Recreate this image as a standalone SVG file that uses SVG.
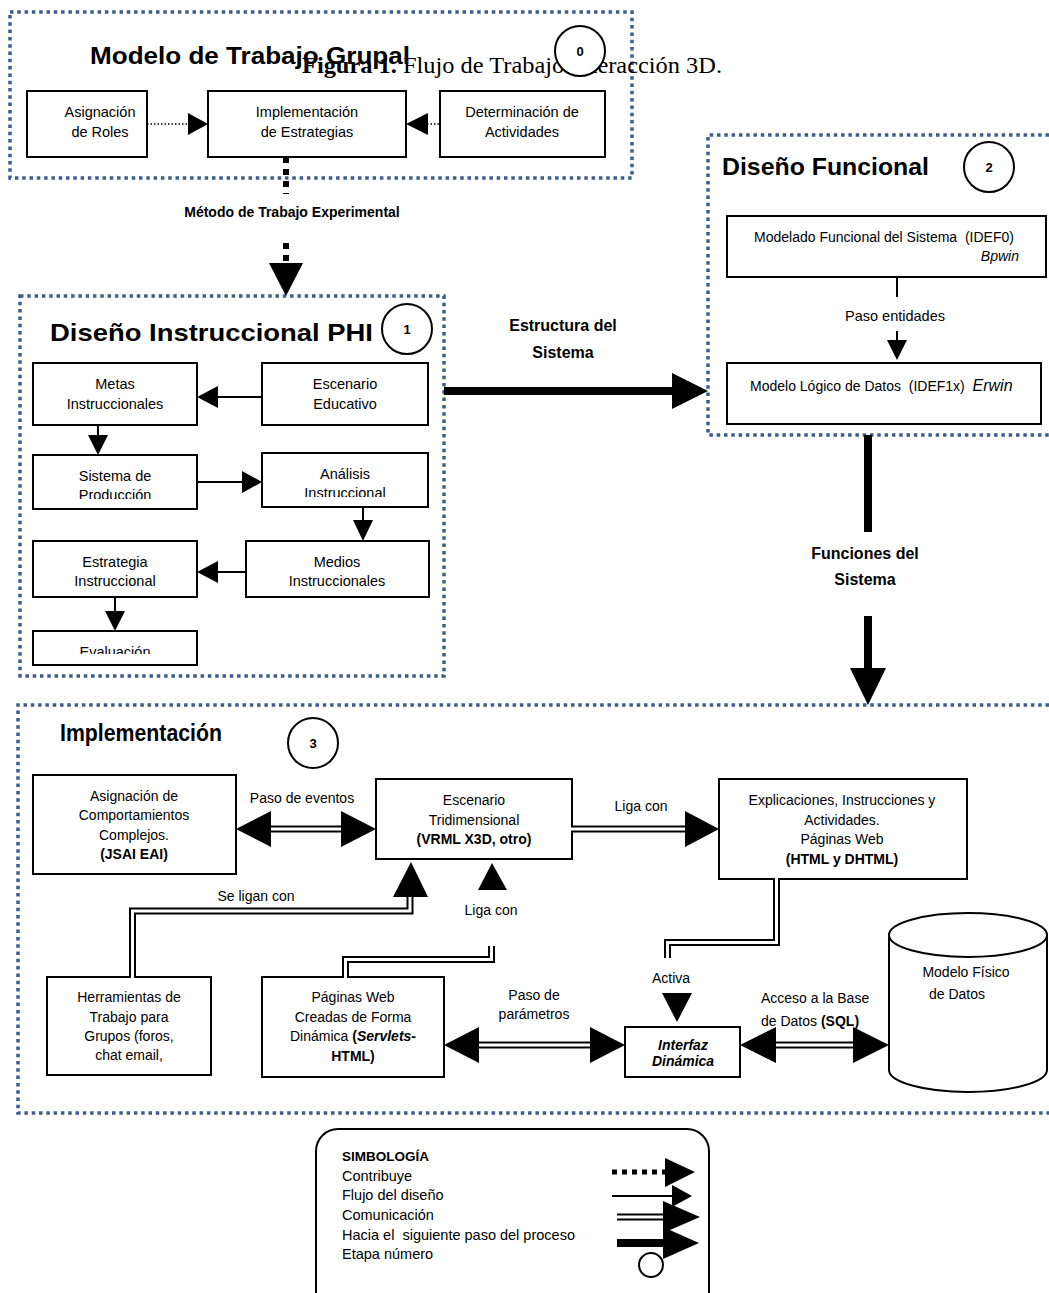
<svg xmlns="http://www.w3.org/2000/svg" width="1049" height="1293" viewBox="0 0 1049 1293">
<style>
text{font-family:"Liberation Sans",Arial,sans-serif;fill:#000;}
.t{font-size:14px;text-anchor:middle;}
.t2{font-size:14.5px;text-anchor:middle;}
.tl{font-size:14px;}
.b{font-weight:bold;}
.title{font-size:24px;font-weight:bold;}
.lbl{font-size:16px;font-weight:bold;text-anchor:middle;}
.fig{font-family:"Liberation Serif","Times New Roman",serif;font-size:24px;}
.grp{fill:none;stroke:#3b5e8c;stroke-width:3.5;stroke-dasharray:3.5 3.8;}
.box{fill:#fff;stroke:#000;stroke-width:2;}
.circ{fill:#fff;stroke:#000;stroke-width:2;}
.num{font-size:13px;font-weight:bold;text-anchor:middle;}
.ah{fill:#000;stroke:none;}
.thin{fill:none;stroke:#000;stroke-width:2;}
.dots{fill:none;stroke:#000;stroke-width:1.3;stroke-dasharray:1.5 2;}
.thick{fill:none;stroke:#000;stroke-width:8;}
.blk{fill:none;stroke:#000;stroke-width:6;stroke-dasharray:6 6;}
.co{fill:none;stroke:#000;stroke-width:7;}
.ci{fill:none;stroke:#fff;stroke-width:3;}
.leg{font-size:14.5px;}
</style>
<defs>
<clipPath id="cProd"><rect x="30" y="450" width="170" height="49"/></clipPath>
<clipPath id="cAnal"><rect x="260" y="450" width="170" height="47"/></clipPath>
<clipPath id="cEval"><rect x="30" y="630" width="170" height="24"/></clipPath>
<clipPath id="cEstr"><rect x="480" y="310" width="170" height="48"/></clipPath>
</defs>
<rect width="1049" height="1293" fill="#fff"/>

<!-- Group 0 -->
<g id="stage0">
<rect class="grp" x="10" y="12" width="622" height="166"/>
<text class="title" x="90" y="64" textLength="320" lengthAdjust="spacingAndGlyphs">Modelo de Trabajo Grupal</text>
<text class="fig" x="302" y="73" textLength="420" lengthAdjust="spacingAndGlyphs"><tspan font-weight="bold">Figura 1.</tspan> Flujo de Trabajo Interacción 3D.</text>
<circle class="circ" cx="580" cy="51" r="25"/>
<text class="num" x="580" y="56">0</text>
</g>
<g id="asignacion-roles">
<rect class="box" x="27" y="91" width="120" height="66"/>
<text class="t2" x="100" y="117">Asignación</text>
<text class="t2" x="100" y="137">de Roles</text>
</g>
<g id="implementacion-estrategias">
<rect class="box" x="208" y="91" width="198" height="66"/>
<text class="t2" x="307" y="117">Implementación</text>
<text class="t2" x="307" y="137">de Estrategias</text>
</g>
<g id="determinacion-actividades">
<rect class="box" x="440" y="91" width="165" height="66"/>
<text class="t2" x="522" y="117">Determinación de</text>
<text class="t2" x="522" y="137">Actividades</text>
</g>

<!-- Group 1 -->
<g id="stage1">
<rect class="grp" x="20" y="296" width="424" height="380"/>
<text class="title" x="50" y="341" textLength="323" lengthAdjust="spacingAndGlyphs">Diseño Instruccional PHI</text>
<circle class="circ" cx="407" cy="329" r="25"/>
<text class="num" x="407" y="334">1</text>
</g>
<g id="metas">
<rect class="box" x="33" y="363" width="164" height="62"/>
<text class="t2" x="115" y="389">Metas</text>
<text class="t2" x="115" y="409">Instruccionales</text>
</g>
<g id="escenario-educativo">
<rect class="box" x="262" y="363" width="166" height="62"/>
<text class="t2" x="345" y="389">Escenario</text>
<text class="t2" x="345" y="409">Educativo</text>
</g>
<g id="sistema-produccion">
<rect class="box" x="33" y="455" width="164" height="54"/>
<g clip-path="url(#cProd)">
<text class="t2" x="115" y="481">Sistema de</text>
<text class="t2" x="115" y="500">Producción</text>
</g>
</g>
<g id="analisis">
<rect class="box" x="262" y="453" width="166" height="54"/>
<g clip-path="url(#cAnal)">
<text class="t2" x="345" y="479">Análisis</text>
<text class="t2" x="345" y="498">Instruccional</text>
</g>
</g>
<g id="medios">
<rect class="box" x="246" y="541" width="183" height="56"/>
<text class="t2" x="337" y="567">Medios</text>
<text class="t2" x="337" y="586">Instruccionales</text>
</g>
<g id="estrategia">
<rect class="box" x="33" y="541" width="164" height="56"/>
<text class="t2" x="115" y="567">Estrategia</text>
<text class="t2" x="115" y="586">Instruccional</text>
</g>
<g id="evaluacion">
<rect class="box" x="33" y="631" width="164" height="34"/>
<g clip-path="url(#cEval)">
<text class="t2" x="115" y="657">Evaluación</text>
</g>
</g>

<!-- Group 2 -->
<g id="stage2">
<path class="grp" d="M1049,135 H708 V435 H1049"/>
<text class="title" x="722" y="175" textLength="207" lengthAdjust="spacingAndGlyphs">Diseño Funcional</text>
<circle class="circ" cx="989" cy="167" r="25"/>
<text class="num" x="989" y="172">2</text>
</g>
<g id="modelado-funcional">
<rect class="box" x="727" y="216" width="319" height="61"/>
<text class="tl" x="754" y="242">Modelado Funcional del Sistema&#160; (IDEF0)</text>
<text class="tl" x="1019" y="261" text-anchor="end" font-style="italic">Bpwin</text>
</g>
<g id="modelo-logico">
<rect class="box" x="727" y="363" width="314" height="61"/>
<text class="tl" x="750" y="391">Modelo Lógico de Datos&#160; (IDEF1x)&#160; <tspan font-style="italic" font-size="16">Erwin</tspan></text>
</g>

<!-- Group 3 -->
<g id="stage3">
<path class="grp" d="M1049,705 H18 V1113 H1049"/>
<text class="title" x="60" y="741" font-size="21" textLength="162" lengthAdjust="spacingAndGlyphs">Implementación</text>
<circle class="circ" cx="313" cy="743" r="25"/>
<text class="num" x="313" y="748">3</text>
</g>
<g id="asignacion-comportamientos">
<rect class="box" x="33" y="775" width="203" height="99"/>
<text class="t" x="134" y="801">Asignación de</text>
<text class="t" x="134" y="820">Comportamientos</text>
<text class="t" x="134" y="840">Complejos.</text>
<text class="t b" x="134" y="859">(JSAI EAI)</text>
</g>
<g id="escenario-3d">
<rect class="box" x="376" y="779" width="196" height="80"/>
<text class="t" x="474" y="805">Escenario</text>
<text class="t" x="474" y="825">Tridimensional</text>
<text class="t b" x="474" y="844">(VRML X3D, otro)</text>
</g>
<g id="explicaciones">
<rect class="box" x="719" y="779" width="248" height="100"/>
<text class="t" x="842" y="805">Explicaciones, Instrucciones y</text>
<text class="t" x="842" y="825">Actividades.</text>
<text class="t" x="842" y="844">Páginas Web</text>
<text class="t b" x="842" y="864">(HTML y DHTML)</text>
</g>
<g id="herramientas">
<rect class="box" x="47" y="977" width="164" height="98"/>
<text class="t" x="129" y="1002">Herramientas de</text>
<text class="t" x="129" y="1022">Trabajo para</text>
<text class="t" x="129" y="1041">Grupos (foros,</text>
<text class="t" x="129" y="1060">chat email,</text>
</g>
<g id="paginas-dinamicas">
<rect class="box" x="262" y="977" width="182" height="100"/>
<text class="t" x="353" y="1002">Páginas Web</text>
<text class="t" x="353" y="1022">Creadas de Forma</text>
<text class="t" x="353" y="1041">Dinámica <tspan font-weight="bold">(</tspan><tspan font-weight="bold" font-style="italic">Servlets-</tspan></text>
<text class="t b" x="353" y="1061">HTML)</text>
</g>
<g id="interfaz">
<rect class="box" x="625" y="1027" width="115" height="50"/>
<text class="t b" x="683" y="1050" font-size="11" font-style="italic">Interfaz</text>
<text class="t b" x="683" y="1066" font-size="11" font-style="italic">Dinámica</text>
</g>
<g id="modelo-fisico">
<path class="box" d="M889,935 V1070 A79,22 0 0 0 1047,1070 V935"/>
<ellipse class="box" cx="968" cy="935" rx="79" ry="22"/>
<text class="t" x="966" y="977">Modelo Físico</text>
<text class="t" x="957" y="999">de Datos</text>
</g>

<!-- Connectors -->
<g id="connectors">
<line class="dots" x1="147" y1="124" x2="189" y2="124"/>
<polygon class="ah" points="188,113 208,124 188,135"/>
<line class="dots" x1="427" y1="124" x2="440" y2="124"/>
<polygon class="ah" points="428,113 406,124 428,135"/>
<line class="blk" x1="286" y1="157" x2="286" y2="194"/>
<text class="b" x="292" y="217" font-size="14" text-anchor="middle">Método de Trabajo Experimental</text>
<line class="blk" x1="286" y1="243" x2="286" y2="265"/>
<polygon class="ah" points="269,263 303,263 286,296"/>
<line class="thin" x1="262" y1="397" x2="216" y2="397"/>
<polygon class="ah" points="218,386 197,397 218,408"/>
<line class="thin" x1="98" y1="425" x2="98" y2="437"/>
<polygon class="ah" points="88,435 108,435 98,455"/>
<line class="thin" x1="197" y1="482" x2="244" y2="482"/>
<polygon class="ah" points="242,471 262,482 242,493"/>
<line class="thin" x1="363" y1="507" x2="363" y2="522"/>
<polygon class="ah" points="353,520 373,520 363,541"/>
<line class="thin" x1="246" y1="572" x2="216" y2="572"/>
<polygon class="ah" points="218,561 197,572 218,583"/>
<line class="thin" x1="115" y1="597" x2="115" y2="613"/>
<polygon class="ah" points="105,611 125,611 115,631"/>
<line class="thick" x1="444" y1="391" x2="674" y2="391"/>
<polygon class="ah" points="672,373 708,391 672,409"/>
<g clip-path="url(#cEstr)">
<text class="lbl" x="563" y="331">Estructura del</text>
<text class="lbl" x="563" y="358">Sistema</text>
</g>
<line class="thin" x1="897" y1="277" x2="897" y2="297"/>
<text class="t2" x="895" y="321">Paso entidades</text>
<line class="thin" x1="897" y1="331" x2="897" y2="342"/>
<polygon class="ah" points="887,340 907,340 897,360"/>
<line class="thick" x1="868" y1="435" x2="868" y2="532" stroke-width="9"/>
<text class="lbl" x="865" y="559">Funciones del</text>
<text class="lbl" x="865" y="585">Sistema</text>
<line class="thick" x1="868" y1="616" x2="868" y2="670" stroke-width="9"/>
<polygon class="ah" points="850,668 886,668 868,705"/>
<line class="co" x1="268" y1="829" x2="344" y2="829"/>
<line class="ci" x1="266" y1="829" x2="346" y2="829"/>
<polygon class="ah" points="271,811 236,829 271,847"/>
<polygon class="ah" points="341,811 376,829 341,847"/>
<text class="t" x="302" y="803">Paso de eventos</text>
<line class="co" x1="572" y1="829" x2="688" y2="829"/>
<line class="ci" x1="570" y1="829" x2="690" y2="829"/>
<polygon class="ah" points="685,811 719,829 685,847"/>
<text class="t" x="641" y="811">Liga con</text>
<path class="co" d="M132.5,977 V911 H410 V895"/>
<path class="ci" d="M132.5,979 V911 H410 V893"/>
<polygon class="ah" points="393,897 428,897 411,862"/>
<text class="t" x="256" y="901">Se ligan con</text>
<path class="co" d="M345.5,977 V959.5 H491.5 V946"/>
<path class="ci" d="M345.5,979 V959.5 H491.5 V944"/>
<polygon class="ah" points="478,890 507,890 492,863"/>
<text class="t" x="491" y="915">Liga con</text>
<path class="co" d="M776.5,879 V942.5 H667.5 V958"/>
<path class="ci" d="M776.5,877 V942.5 H667.5 V960"/>
<text class="t" x="671" y="983">Activa</text>
<polygon class="ah" points="662,993 692,993 677,1022"/>
<line class="co" x1="475" y1="1045" x2="593" y2="1045"/>
<line class="ci" x1="473" y1="1045" x2="595" y2="1045"/>
<polygon class="ah" points="479,1027 444,1045 479,1063"/>
<polygon class="ah" points="590,1027 625,1045 590,1063"/>
<text class="t" x="534" y="1000">Paso de</text>
<text class="t" x="534" y="1019">parámetros</text>
<line class="co" x1="773" y1="1045" x2="856" y2="1045"/>
<line class="ci" x1="771" y1="1045" x2="858" y2="1045"/>
<polygon class="ah" points="776,1027 740,1045 776,1063"/>
<polygon class="ah" points="853,1027 889,1045 853,1063"/>
<text class="tl" x="761" y="1003">Acceso a la Base</text>
<text class="tl" x="761" y="1026">de Datos <tspan font-weight="bold">(SQL)</tspan></text>
</g>

<!-- Legend -->
<g id="legend">
<rect x="316" y="1129" width="393" height="190" rx="22" fill="#fff" stroke="#000" stroke-width="2"/>
<text x="342" y="1161" font-size="13.5" font-weight="bold">SIMBOLOGÍA</text>
<text class="leg" x="342" y="1181">Contribuye</text>
<text class="leg" x="342" y="1200">Flujo del diseño</text>
<text class="leg" x="342" y="1220">Comunicación</text>
<text class="leg" x="342" y="1240">Hacia el&#160; siguiente paso del proceso</text>
<text class="leg" x="342" y="1259">Etapa número</text>
<line x1="612" y1="1172" x2="666" y2="1172" stroke="#000" stroke-width="5" stroke-dasharray="5 5"/>
<polygon class="ah" points="665,1158 695,1172 665,1187"/>
<line class="thin" x1="612" y1="1196" x2="674" y2="1196"/>
<polygon class="ah" points="672,1185 692,1196 672,1207"/>
<line class="co" x1="617" y1="1217" x2="666" y2="1217"/>
<line class="ci" x1="615" y1="1217" x2="666" y2="1217"/>
<polygon class="ah" points="663,1201 700,1217 663,1233"/>
<line class="thick" x1="617" y1="1243" x2="666" y2="1243"/>
<polygon class="ah" points="663,1227 699,1243 663,1259"/>
<circle class="circ" cx="651" cy="1265" r="12"/>
</g>
</svg>
